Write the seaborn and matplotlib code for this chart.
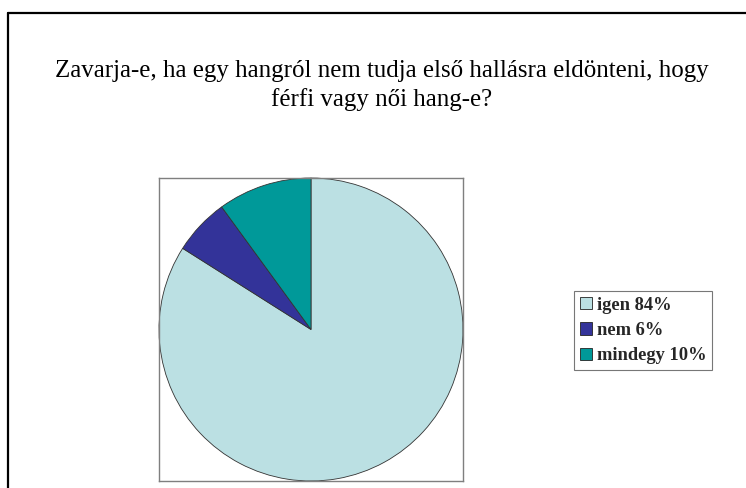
import matplotlib
matplotlib.use("Agg")
import matplotlib.pyplot as plt
from matplotlib.patches import Patch
from matplotlib.lines import Line2D
import seaborn as sns

# Survey answers and their shares (percent)
categories = ["igen", "nem", "mindegy"]
shares = [84, 6, 10]
legend_labels = ["igen 84%", "nem 6%", "mindegy 10%"]
title_lines = ["Zavarja-e, ha egy hangról nem tudja első hallásra eldönteni, hogy",
               "férfi vagy női hang-e?"]

sns.set_theme(style="white")
plt.rcParams["font.family"] = ["Liberation Serif", "DejaVu Serif"]

colors = sns.color_palette(["#BBE0E3", "#333399", "#009999"])

W, H = 746, 488
fig = plt.figure(figsize=(W / 100, H / 100), dpi=100)
fig.patch.set_facecolor("white")

def fx(px):
    return px / W

def fy(py):
    return 1 - py / H

# Outer chart frame (left and top edges)
fig.add_artist(Line2D([fx(8), fx(8)], [fy(13), 0], transform=fig.transFigure,
                      color="black", lw=1.6))
fig.add_artist(Line2D([fx(8), 1], [fy(13), fy(13)], transform=fig.transFigure,
                      color="black", lw=1.6))

# Title, two centred lines
for line, base in zip(title_lines, [77, 106]):
    fig.text(fx(382), fy(base), line, ha="center", va="baseline",
             fontsize=17.9, color="black")

# Pie plot area
left, right, top, bottom = 159, 463, 178, 481
ax = fig.add_axes([fx(left), fy(bottom), (right - left) / W, (bottom - top) / H])
wedges, _ = ax.pie(shares, colors=colors, startangle=90, counterclock=False,
                   radius=1.0, frame=True,
                   wedgeprops=dict(edgecolor="#333333", linewidth=0.6))
ax.set_xlim(-1.0, 1.0)
ax.set_ylim(-1.0, 1.0)
ax.set_aspect("auto")
for s in ax.spines.values():
    s.set_visible(True)
    s.set_color("#7f7f7f")
    s.set_linewidth(1.0)
ax.set_xticks([])
ax.set_yticks([])

# Legend
handles = [Patch(facecolor=c, edgecolor="#222222", linewidth=0.6) for c in colors]
leg = fig.legend(handles, legend_labels, loc="upper left",
                 bbox_to_anchor=(fx(574), fy(291)), bbox_transform=fig.transFigure,
                 borderaxespad=0, frameon=True, fancybox=False, shadow=False,
                 prop=dict(family=["Liberation Serif"], weight="bold", size=13.3),
                 handlelength=0.65, handleheight=0.65, handletextpad=0.3,
                 labelspacing=0.45, borderpad=0.3)
leg.get_frame().set_edgecolor("#555555")
leg.get_frame().set_linewidth(0.8)

fig.savefig("out.png", dpi=100, facecolor="white")
